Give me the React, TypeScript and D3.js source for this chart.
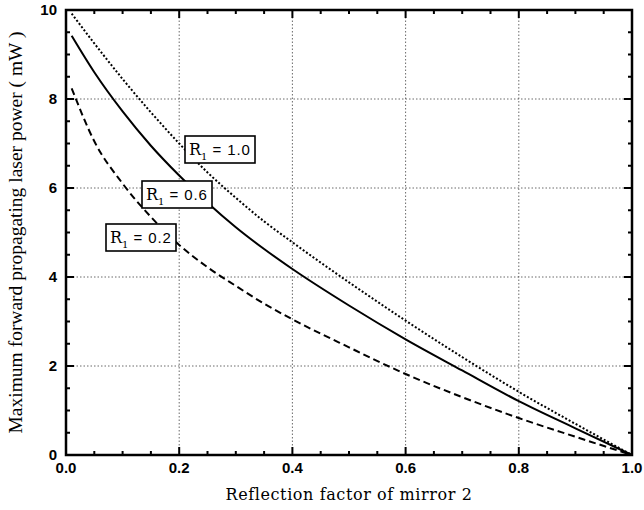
import React from "react";
import * as d3 from "d3";

const xR1_10 = [0.01, 0.05, 0.1, 0.15, 0.2, 0.25, 0.3, 0.35, 0.4, 0.5, 0.6, 0.7, 0.8, 0.9, 1.0];
const yR1_10 = [9.92, 9.25, 8.45, 7.7, 7.0, 6.35, 5.78, 5.25, 4.78, 3.88, 3.02, 2.2, 1.42, 0.7, 0.0];

const xR1_06 = [0.01, 0.05, 0.1, 0.15, 0.2, 0.25, 0.3, 0.35, 0.4, 0.5, 0.6, 0.7, 0.8, 0.9, 1.0];
const yR1_06 = [9.42, 8.6, 7.72, 6.95, 6.28, 5.67, 5.12, 4.63, 4.18, 3.36, 2.6, 1.9, 1.21, 0.6, 0.0];

const xR1_02 = [0.01, 0.05, 0.1, 0.15, 0.2, 0.25, 0.3, 0.35, 0.4, 0.5, 0.6, 0.7, 0.8, 0.9, 1.0];
const yR1_02 = [8.24, 7.05, 6.1, 5.35, 4.72, 4.22, 3.8, 3.4, 3.05, 2.42, 1.82, 1.3, 0.83, 0.41, 0.0];

const xTicks = [0.0, 0.2, 0.4, 0.6, 0.8, 1.0];
const yTicks = [0, 2, 4, 6, 8, 10];
const labels = ["1.0", "0.6", "0.2"];

const L = 66, R = 632, T = 10, B = 455;

export default function App() {
  const x = d3.scaleLinear().domain([0, 1]).range([L, R]);
  const y = d3.scaleLinear().domain([0, 10]).range([B, T]);
  const line = d3.line<[number, number]>().x(d => x(d[0])).y(d => y(d[1])).curve(d3.curveMonotoneX);
  const mk = (xs: number[], ys: number[]) => line(xs.map((v, i) => [v, ys[i]] as [number, number])) || "";

  const minorX = d3.range(0, 1.0001, 0.05);
  const minorY = d3.range(0, 10.0001, 0.5);

  const boxes = [
    { lab: labels[0], bx: 185, by: 136 },
    { lab: labels[1], bx: 142, by: 181 },
    { lab: labels[2], bx: 106, by: 224 },
  ];

  return (
    <svg width={644} height={510} style={{ position: "absolute", left: 0, top: 0, background: "#fff" }}>
      <rect x={0} y={0} width={644} height={510} fill="#fff" />
      {xTicks.slice(1, -1).map(t => (
        <line key={"gx" + t} x1={x(t)} x2={x(t)} y1={T} y2={B} stroke="#444" strokeWidth={0.8} strokeDasharray="1.5,2" />
      ))}
      {yTicks.slice(1, -1).map(t => (
        <line key={"gy" + t} x1={L} x2={R} y1={y(t)} y2={y(t)} stroke="#444" strokeWidth={0.8} strokeDasharray="1.5,2" />
      ))}
      {minorX.map((t, i) => {
        const len = i % 4 === 0 ? 8 : 4;
        return (
          <g key={"tx" + i}>
            <line x1={x(t)} x2={x(t)} y1={B} y2={B - len} stroke="#000" strokeWidth={2} />
            <line x1={x(t)} x2={x(t)} y1={T} y2={T + len} stroke="#000" strokeWidth={2} />
          </g>
        );
      })}
      {minorY.map((t, i) => {
        const len = i % 4 === 0 ? 8 : 4;
        return (
          <g key={"ty" + i}>
            <line x1={L} x2={L + len} y1={y(t)} y2={y(t)} stroke="#000" strokeWidth={2} />
            <line x1={R} x2={R - len} y1={y(t)} y2={y(t)} stroke="#000" strokeWidth={2} />
          </g>
        );
      })}
      <path d={mk(xR1_10, yR1_10)} fill="none" stroke="#000" strokeWidth={2} strokeDasharray="2,2" />
      <path d={mk(xR1_06, yR1_06)} fill="none" stroke="#000" strokeWidth={2} />
      <path d={mk(xR1_02, yR1_02)} fill="none" stroke="#000" strokeWidth={2} strokeDasharray="7,4" />
      <rect x={L} y={T} width={R - L} height={B - T} fill="none" stroke="#000" strokeWidth={2.5} />
      {boxes.map(b => (
        <g key={b.lab}>
          <rect x={b.bx} y={b.by} width={70} height={27} fill="#fff" stroke="#000" strokeWidth={1.6} />
          <text x={b.bx + 4} y={b.by + 19} fontFamily="'DejaVu Serif', serif" fontSize={16} fill="#000">
            R
            <tspan fontSize={10} dy={5}>1</tspan>
            <tspan dy={-5} fontFamily="'Liberation Sans', Arial, sans-serif" fontSize={15} letterSpacing={0.9}>{" = " + b.lab}</tspan>
          </text>
        </g>
      ))}
      {xTicks.map(t => (
        <text key={"lx" + t} x={x(t)} y={B + 18} textAnchor="middle" fontFamily="'Liberation Sans', Arial, sans-serif" fontWeight="bold" fontSize={15} fill="#000">
          {t.toFixed(1)}
        </text>
      ))}
      {yTicks.map(t => (
        <text key={"ly" + t} x={L - 9} y={y(t) + 5} textAnchor="end" fontFamily="'Liberation Sans', Arial, sans-serif" fontWeight="bold" fontSize={15} fill="#000">
          {t}
        </text>
      ))}
      <text x={349} y={500} textAnchor="middle" fontFamily="'DejaVu Serif', serif" fontSize={16} letterSpacing={0.6} fill="#000">
        Reflection factor of mirror 2
      </text>
      <text transform={`translate(22, ${(T + B) / 2}) rotate(-90)`} textAnchor="middle" fontFamily="'Liberation Serif', 'Times New Roman', serif" fontSize={19.5} fill="#000">
        Maximum forward propagating laser power ( mW )
      </text>
    </svg>
  );
}
